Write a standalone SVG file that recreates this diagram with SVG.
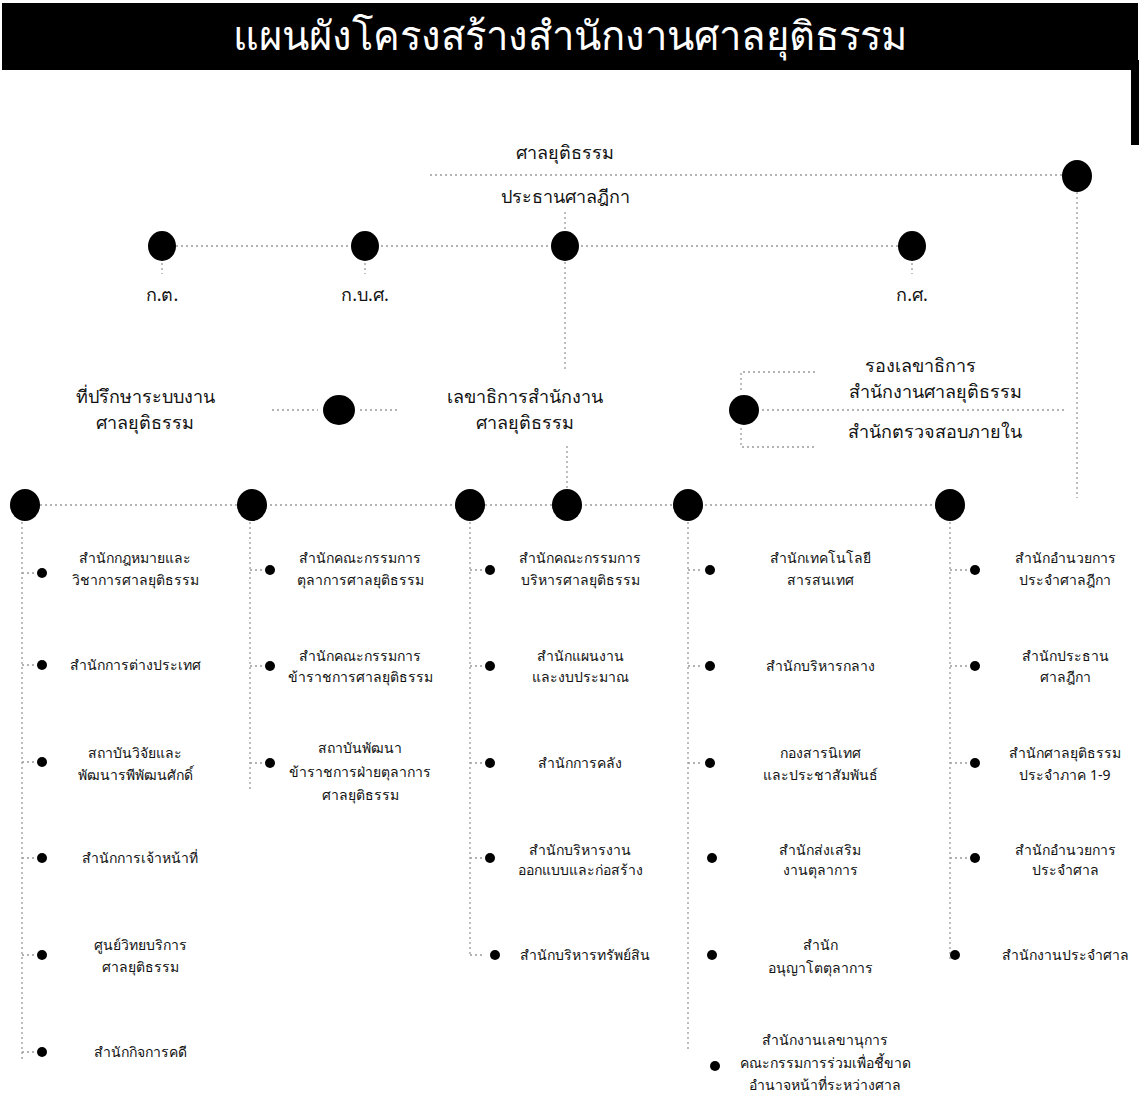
<svg xmlns="http://www.w3.org/2000/svg" width="1142" height="1103" viewBox="0 0 1142 1103">
<style>
.t{font-family:"Noto Sans","DejaVu Sans",sans-serif;fill:#111;text-anchor:middle}
.h{font-size:18px}
.i{font-size:14px}
.ln{stroke:#9a9a9a;stroke-width:1.3;stroke-dasharray:2 3;fill:none}
.n{fill:#000}
</style>
<rect width="1142" height="1103" fill="#fff"/>
<g id="title">
<rect x="2" y="3" width="1136" height="67" fill="#000"/>
<rect x="1131" y="60" width="8" height="85" fill="#000"/>
<text x="570" y="50" font-family="Noto Sans,DejaVu Sans,sans-serif" font-size="40" fill="#fff" text-anchor="middle">แผนผังโครงสร้างสำนักงานศาลยุติธรรม</text>
</g>
<g id="connectors">
<line class="ln" x1="430" y1="175" x2="1062" y2="175"/>
<line class="ln" x1="565" y1="212" x2="565" y2="232"/>
<line class="ln" x1="176" y1="246" x2="898" y2="246"/>
<line class="ln" x1="162" y1="263" x2="162" y2="274"/>
<line class="ln" x1="365" y1="263" x2="365" y2="274"/>
<line class="ln" x1="912" y1="263" x2="912" y2="274"/>
<line class="ln" x1="565" y1="262" x2="565" y2="372"/>
<line class="ln" x1="1077" y1="192" x2="1077" y2="498"/>
<line class="ln" x1="272" y1="410" x2="318" y2="410"/>
<line class="ln" x1="360" y1="410" x2="400" y2="410"/>
<line class="ln" x1="762" y1="410" x2="1065" y2="410"/>
<polyline class="ln" points="815,372 741,372 741,393"/>
<polyline class="ln" points="741,428 741,447 815,447"/>
<line class="ln" x1="567" y1="446" x2="567" y2="488"/>
<line class="ln" x1="40" y1="505" x2="936" y2="505"/>
<line class="ln" x1="22" y1="522" x2="22" y2="1060"/>
<line class="ln" x1="250" y1="522" x2="250" y2="790"/>
<line class="ln" x1="470" y1="522" x2="470" y2="955"/>
<line class="ln" x1="688" y1="522" x2="688" y2="1050"/>
<line class="ln" x1="950" y1="522" x2="950" y2="960"/>
<g>
<line class="ln" x1="22" y1="573" x2="36" y2="573"/><line class="ln" x1="22" y1="665" x2="36" y2="665"/><line class="ln" x1="22" y1="762" x2="36" y2="762"/><line class="ln" x1="22" y1="858" x2="36" y2="858"/><line class="ln" x1="22" y1="955" x2="36" y2="955"/><line class="ln" x1="22" y1="1052" x2="36" y2="1052"/>
<line class="ln" x1="250" y1="570" x2="264" y2="570"/><line class="ln" x1="250" y1="666" x2="264" y2="666"/><line class="ln" x1="250" y1="763" x2="264" y2="763"/>
<line class="ln" x1="470" y1="570" x2="484" y2="570"/><line class="ln" x1="470" y1="666" x2="484" y2="666"/><line class="ln" x1="470" y1="763" x2="484" y2="763"/><line class="ln" x1="470" y1="858" x2="484" y2="858"/><line class="ln" x1="470" y1="955" x2="484" y2="955"/>
<line class="ln" x1="688" y1="570" x2="703" y2="570"/><line class="ln" x1="688" y1="666" x2="703" y2="666"/><line class="ln" x1="688" y1="763" x2="703" y2="763"/>
<line class="ln" x1="950" y1="570" x2="968" y2="570"/><line class="ln" x1="950" y1="666" x2="968" y2="666"/><line class="ln" x1="950" y1="763" x2="968" y2="763"/><line class="ln" x1="950" y1="858" x2="968" y2="858"/>
</g>
</g>
<g id="n-court"><text class="t h" x="565" y="159">ศาลยุติธรรม</text><ellipse class="n" cx="1077" cy="176" rx="15" ry="16"/></g>
<g id="n-president"><text class="t h" x="565" y="203">ประธานศาลฎีกา</text></g>
<g id="n-kt"><ellipse class="n" cx="162" cy="246" rx="14" ry="15"/><text class="t h" x="162" y="301">ก.ต.</text></g>
<g id="n-kbs"><ellipse class="n" cx="365" cy="246" rx="14" ry="15"/><text class="t h" x="365" y="301">ก.บ.ศ.</text></g>
<g id="n-center"><ellipse class="n" cx="565" cy="246" rx="14" ry="15"/></g>
<g id="n-ks"><ellipse class="n" cx="912" cy="246" rx="14" ry="15"/><text class="t h" x="912" y="301">ก.ศ.</text></g>
<g id="n-advisor"><ellipse class="n" cx="339" cy="410" rx="16" ry="15"/><text class="t h" x="145" y="403">ที่ปรึกษาระบบงาน</text><text class="t h" x="145" y="429">ศาลยุติธรรม</text></g>
<g id="n-secretary"><text class="t h" x="525" y="403">เลขาธิการสำนักงาน</text><text class="t h" x="525" y="429">ศาลยุติธรรม</text></g>
<g id="n-deputy"><ellipse class="n" cx="744" cy="410" rx="15" ry="15"/><text class="t h" x="920" y="372">รองเลขาธิการ</text><text class="t h" x="935" y="398">สำนักงานศาลยุติธรรม</text><text class="t h" x="935" y="438">สำนักตรวจสอบภายใน</text></g>
<g id="row-nodes">
<ellipse class="n" cx="25" cy="505" rx="15" ry="16"/>
<ellipse class="n" cx="252" cy="505" rx="15" ry="16"/>
<ellipse class="n" cx="470" cy="505" rx="15" ry="16"/>
<ellipse class="n" cx="567" cy="505" rx="15" ry="16"/>
<ellipse class="n" cx="688" cy="505" rx="15" ry="16"/>
<ellipse class="n" cx="950" cy="505" rx="15" ry="16"/>
</g>
<g id="col1">
<circle class="n" cx="42" cy="573" r="5"/><text class="t i" x="135" y="563">สำนักกฎหมายและ</text><text class="t i" x="135" y="585">วิชาการศาลยุติธรรม</text>
<circle class="n" cx="42" cy="665" r="5"/><text class="t i" x="135" y="670">สำนักการต่างประเทศ</text>
<circle class="n" cx="42" cy="762" r="5"/><text class="t i" x="135" y="758">สถาบันวิจัยและ</text><text class="t i" x="135" y="780">พัฒนารพีพัฒนศักดิ์</text>
<circle class="n" cx="42" cy="858" r="5"/><text class="t i" x="140" y="863">สำนักการเจ้าหน้าที่</text>
<circle class="n" cx="42" cy="955" r="5"/><text class="t i" x="140" y="950">ศูนย์วิทยบริการ</text><text class="t i" x="140" y="972">ศาลยุติธรรม</text>
<circle class="n" cx="42" cy="1052" r="5"/><text class="t i" x="140" y="1057">สำนักกิจการคดี</text>
</g>
<g id="col2">
<circle class="n" cx="270" cy="570" r="5"/><text class="t i" x="360" y="563">สำนักคณะกรรมการ</text><text class="t i" x="360" y="585">ตุลาการศาลยุติธรรม</text>
<circle class="n" cx="270" cy="666" r="5"/><text class="t i" x="360" y="661">สำนักคณะกรรมการ</text><text class="t i" x="360" y="682">ข้าราชการศาลยุติธรรม</text>
<circle class="n" cx="270" cy="763" r="5"/><text class="t i" x="360" y="753">สถาบันพัฒนา</text><text class="t i" x="360" y="777">ข้าราชการฝ่ายตุลาการ</text><text class="t i" x="360" y="800">ศาลยุติธรรม</text>
</g>
<g id="col3">
<circle class="n" cx="490" cy="570" r="5"/><text class="t i" x="580" y="563">สำนักคณะกรรมการ</text><text class="t i" x="580" y="585">บริหารศาลยุติธรรม</text>
<circle class="n" cx="490" cy="666" r="5"/><text class="t i" x="580" y="661">สำนักแผนงาน</text><text class="t i" x="580" y="682">และงบประมาณ</text>
<circle class="n" cx="490" cy="763" r="5"/><text class="t i" x="580" y="768">สำนักการคลัง</text>
<circle class="n" cx="490" cy="858" r="5"/><text class="t i" x="580" y="855">สำนักบริหารงาน</text><text class="t i" x="580" y="875">ออกแบบและก่อสร้าง</text>
<circle class="n" cx="495" cy="955" r="5"/><text class="t i" x="585" y="960">สำนักบริหารทรัพย์สิน</text>
</g>
<g id="col4">
<circle class="n" cx="710" cy="570" r="5"/><text class="t i" x="820" y="563">สำนักเทคโนโลยี</text><text class="t i" x="820" y="585">สารสนเทศ</text>
<circle class="n" cx="710" cy="666" r="5"/><text class="t i" x="820" y="671">สำนักบริหารกลาง</text>
<circle class="n" cx="710" cy="763" r="5"/><text class="t i" x="820" y="758">กองสารนิเทศ</text><text class="t i" x="820" y="780">และประชาสัมพันธ์</text>
<circle class="n" cx="712" cy="858" r="5"/><text class="t i" x="820" y="855">สำนักส่งเสริม</text><text class="t i" x="820" y="875">งานตุลาการ</text>
<circle class="n" cx="712" cy="955" r="5"/><text class="t i" x="820" y="950">สำนัก</text><text class="t i" x="820" y="973">อนุญาโตตุลาการ</text>
<circle class="n" cx="715" cy="1066" r="5"/><text class="t i" x="825" y="1045">สำนักงานเลขานุการ</text><text class="t i" x="825" y="1068">คณะกรรมการร่วมเพื่อชี้ขาด</text><text class="t i" x="825" y="1090">อำนาจหน้าที่ระหว่างศาล</text>
</g>
<g id="col5">
<circle class="n" cx="975" cy="570" r="5"/><text class="t i" x="1065" y="563">สำนักอำนวยการ</text><text class="t i" x="1065" y="585">ประจำศาลฎีกา</text>
<circle class="n" cx="975" cy="666" r="5"/><text class="t i" x="1065" y="661">สำนักประธาน</text><text class="t i" x="1065" y="682">ศาลฎีกา</text>
<circle class="n" cx="975" cy="763" r="5"/><text class="t i" x="1065" y="758">สำนักศาลยุติธรรม</text><text class="t i" x="1065" y="780">ประจำภาค 1-9</text>
<circle class="n" cx="975" cy="858" r="5"/><text class="t i" x="1065" y="855">สำนักอำนวยการ</text><text class="t i" x="1065" y="875">ประจำศาล</text>
<circle class="n" cx="955" cy="955" r="5"/><text class="t i" x="1065" y="960">สำนักงานประจำศาล</text>
</g>
</svg>
